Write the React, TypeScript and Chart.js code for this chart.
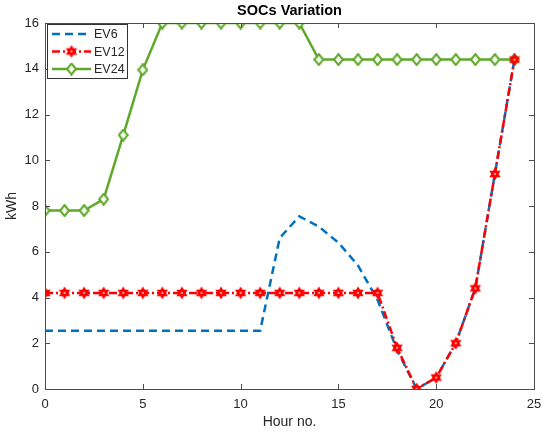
import { useEffect, useRef } from "react";
import { Chart, registerables, type Plugin } from "chart.js";

Chart.register(...registerables);

const hours = [0, 1, 2, 3, 4, 5, 6, 7, 8, 9, 10, 11, 12, 13, 14, 15, 16, 17, 18, 19, 20, 21, 22, 23, 24];
const ev6 = [2.55, 2.55, 2.55, 2.55, 2.55, 2.55, 2.55, 2.55, 2.55, 2.55, 2.55, 2.55, 6.6, 7.55, 7.1, 6.4, 5.4, 3.9, 1.7, 0, 0.5, 2.0, 4.4, 9.4, 14.4];
const ev12 = [4.2, 4.2, 4.2, 4.2, 4.2, 4.2, 4.2, 4.2, 4.2, 4.2, 4.2, 4.2, 4.2, 4.2, 4.2, 4.2, 4.2, 4.2, 1.8, 0, 0.5, 2.0, 4.4, 9.4, 14.4];
const ev24 = [7.8, 7.8, 7.8, 8.3, 11.1, 13.95, 16, 16, 16, 16, 16, 16, 16, 16, 14.4, 14.4, 14.4, 14.4, 14.4, 14.4, 14.4, 14.4, 14.4, 14.4, 14.4];
const xTicks = [0, 5, 10, 15, 20, 25];
const yTicks = [0, 2, 4, 6, 8, 10, 12, 14, 16];

const BLUE = "#0072BD";
const RED = "#FF0000";
const GREEN = "#5FA82A";
const AXIS = "#4d4d4d";
const TEXT = "#262626";
const FONT = "'Liberation Sans', Arial, sans-serif";

function hexagram(size: number) {
  const c = document.createElement("canvas");
  c.width = size;
  c.height = size;
  const ctx = c.getContext("2d")!;
  const r = size / 2 - 0.5;
  const cx = size / 2;
  const cy = size / 2;
  ctx.fillStyle = RED;
  for (const off of [-Math.PI / 2, Math.PI / 2]) {
    ctx.beginPath();
    for (let k = 0; k < 3; k++) {
      const a = off + (k * 2 * Math.PI) / 3;
      const px = cx + r * Math.cos(a);
      const py = cy + r * Math.sin(a);
      if (k === 0) ctx.moveTo(px, py);
      else ctx.lineTo(px, py);
    }
    ctx.closePath();
    ctx.fill();
  }
  ctx.fillStyle = "#ffd0d0";
  ctx.beginPath();
  ctx.arc(cx, cy, 1, 0, Math.PI * 2);
  ctx.fill();
  return c;
}

function diamond(w: number, h: number) {
  const c = document.createElement("canvas");
  c.width = w;
  c.height = h;
  const ctx = c.getContext("2d")!;
  ctx.beginPath();
  ctx.moveTo(w / 2, 1);
  ctx.lineTo(w - 1, h / 2);
  ctx.lineTo(w / 2, h - 1);
  ctx.lineTo(1, h / 2);
  ctx.closePath();
  ctx.fillStyle = "#f4f9ee";
  ctx.fill();
  ctx.strokeStyle = GREEN;
  ctx.lineWidth = 2;
  ctx.stroke();
  return c;
}

const frame: Plugin = {
  id: "frame",
  afterDraw(chart) {
    const { ctx, chartArea: a, scales } = chart;
    const xs = scales.x;
    const ys = scales.y;
    ctx.save();
    ctx.strokeStyle = AXIS;
    ctx.lineWidth = 1;
    ctx.strokeRect(a.left + 0.5, a.top + 0.5, a.right - a.left, a.bottom - a.top);
    ctx.beginPath();
    for (const t of xTicks) {
      const px = Math.round(xs.getPixelForValue(t)) + 0.5;
      ctx.moveTo(px, a.bottom);
      ctx.lineTo(px, a.bottom - 5);
      ctx.moveTo(px, a.top);
      ctx.lineTo(px, a.top + 5);
    }
    for (const t of yTicks) {
      const py = Math.round(ys.getPixelForValue(t)) + 0.5;
      ctx.moveTo(a.left, py);
      ctx.lineTo(a.left + 5, py);
      ctx.moveTo(a.right, py);
      ctx.lineTo(a.right - 5, py);
    }
    ctx.stroke();

    ctx.fillStyle = "#000";
    ctx.textAlign = "center";
    ctx.textBaseline = "middle";
    ctx.font = `bold 14.5px ${FONT}`;
    ctx.fillText("SOCs Variation", (a.left + a.right) / 2, 11);
    ctx.fillStyle = TEXT;
    ctx.font = `14px ${FONT}`;
    ctx.fillText("Hour no.", (a.left + a.right) / 2, 422);
    ctx.save();
    ctx.translate(12, (a.top + a.bottom) / 2);
    ctx.rotate(-Math.PI / 2);
    ctx.fillText("kWh", 0, 0);
    ctx.restore();

    // legend
    const lx = a.left + 2;
    const ly = a.top + 1;
    ctx.fillStyle = "#fff";
    ctx.fillRect(lx, ly, 80, 54);
    ctx.strokeStyle = "#333";
    ctx.strokeRect(lx + 0.5, ly + 0.5, 80, 54);
    const rows = [
      { label: "EV6", color: BLUE, dash: [8, 5], width: 2.5, marker: null as HTMLCanvasElement | null },
      { label: "EV12", color: RED, dash: [8, 3, 2, 3], width: 2.5, marker: hexagram(14) },
      { label: "EV24", color: GREEN, dash: [] as number[], width: 2.5, marker: diamond(11, 13) },
    ];
    rows.forEach((r, i) => {
      const y = ly + 10 + i * 17.5;
      ctx.strokeStyle = r.color;
      ctx.lineWidth = r.width;
      ctx.setLineDash(r.dash);
      ctx.beginPath();
      ctx.moveTo(lx + 5, y);
      ctx.lineTo(lx + 44, y);
      ctx.stroke();
      ctx.setLineDash([]);
      if (r.marker) ctx.drawImage(r.marker, lx + 24.5 - r.marker.width / 2, y - r.marker.height / 2);
      ctx.fillStyle = TEXT;
      ctx.textAlign = "left";
      ctx.font = `12.5px ${FONT}`;
      ctx.fillText(r.label, lx + 47, y + 1);
    });
    ctx.restore();
  },
};

export default function App() {
  const canvasRef = useRef<HTMLCanvasElement | null>(null);

  useEffect(() => {
    const canvas = canvasRef.current;
    if (!canvas) return;
    const star = hexagram(14);
    const dia = diamond(11, 13);
    const chart = new Chart(canvas, {
      type: "line",
      data: {
        datasets: [
          {
            label: "EV6",
            data: hours.map((h, i) => ({ x: h, y: ev6[i] })),
            borderColor: BLUE,
            borderWidth: 2.5,
            borderDash: [8, 5],
            pointRadius: 0,
            tension: 0,
            fill: false,
            order: 1,
          },
          {
            label: "EV12",
            data: hours.map((h, i) => ({ x: h, y: ev12[i] })),
            borderColor: RED,
            borderWidth: 2.5,
            borderDash: [8, 3, 2, 3],
            pointStyle: star,
            pointRadius: 7,
            fill: false,
            order: 0,
          },
          {
            label: "EV24",
            data: hours.map((h, i) => ({ x: h, y: ev24[i] })),
            borderColor: GREEN,
            borderWidth: 2.5,
            pointStyle: dia,
            pointRadius: 6,
            fill: false,
            order: 2,
          },
        ],
      },
      options: {
        animation: false,
        responsive: false,
        devicePixelRatio: 1,
        layout: { padding: { left: 0, top: 23, right: 16, bottom: 0 } },
        plugins: { legend: { display: false }, title: { display: false }, tooltip: { enabled: false } },
        scales: {
          x: {
            type: "linear",
            min: 0,
            max: 25,
            afterFit: (s) => {
              s.height = 49;
            },
            afterBuildTicks: (s) => {
              s.ticks = xTicks.map((v) => ({ value: v }));
            },
            grid: { display: false, drawTicks: false },
            border: { display: false },
            ticks: { color: TEXT, font: { family: FONT, size: 13 }, padding: 8, maxRotation: 0 },
          },
          y: {
            min: 0,
            max: 16,
            afterFit: (s) => {
              s.width = 45;
            },
            afterBuildTicks: (s) => {
              s.ticks = yTicks.map((v) => ({ value: v }));
            },
            grid: { display: false, drawTicks: false },
            border: { display: false },
            ticks: { color: TEXT, font: { family: FONT, size: 13 }, padding: 6 },
          },
        },
      },
      plugins: [frame],
    });
    return () => chart.destroy();
  }, []);

  return (
    <div style={{ position: "absolute", left: 0, top: 0, width: 550, height: 438, background: "#fff" }}>
      <canvas ref={canvasRef} width={550} height={438} />
    </div>
  );
}
